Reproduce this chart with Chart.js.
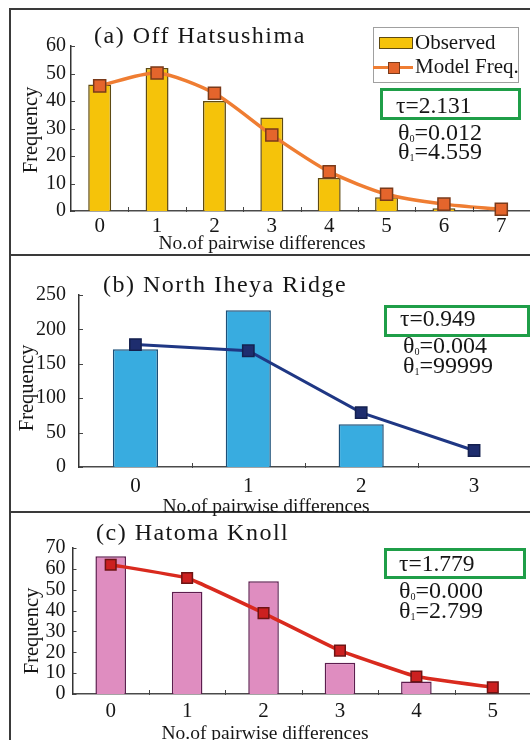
<!DOCTYPE html>
<html>
<head>
<meta charset="utf-8">
<script src="https://cdn.jsdelivr.net/npm/chart.js@4.4.1/dist/chart.umd.min.js"></script>
<style>
  body { margin: 0; background: #fff; }
  #fig { position: relative; width: 530px; height: 740px; overflow: hidden;
         font-family: "Liberation Serif", "Times New Roman", serif; color: #161616; }
  #fig canvas { position: absolute; left: 0; }
  .rule { position: absolute; background: #3a3a3a; }
  .txt { position: absolute; white-space: nowrap; line-height: 1; }
  .ptitle { font-size: 24px; letter-spacing: 1.5px; }
  .ytitle { font-size: 20.5px; transform: translate(-50%, -50%) rotate(-90deg); }
  .xtitle { font-size: 19.5px; transform: translateX(-50%); }
  .tauTxt { font-size: 23.5px; }
  .theta { font-size: 24px; }
  .theta sub { font-size: 0.42em; vertical-align: -0.15em; }
  .box { position: absolute; box-sizing: border-box; }
  .tau { border: 3px solid #1f9e48; }
  .legend { border: 1.5px solid #a0a0a0; }
  .swatch { position: absolute; box-sizing: border-box; background: #f5c30a; border: 1.5px solid #5e4a12; }
  .lline { position: absolute; height: 3px; background: #ef7d32; }
  .lmark { position: absolute; box-sizing: border-box; width: 12px; height: 12px; background: #e5652c; border: 1.5px solid #7a3a1a; }
</style>
</head>
<body>
<div id="fig">
  <canvas id="chartA" width="540" height="246" style="top:9px"></canvas>
  <canvas id="chartB" width="540" height="256" style="top:256px"></canvas>
  <canvas id="chartC" width="540" height="227" style="top:513px"></canvas>

  <div class="rule" style="left:9px;top:8px;width:2px;height:740px"></div>
  <div class="rule" style="left:9px;top:8px;width:530px;height:2px"></div>
  <div class="rule" style="left:9px;top:254px;width:530px;height:2px"></div>
  <div class="rule" style="left:9px;top:511px;width:530px;height:2px"></div>

  <!-- panel a -->
  <div class="txt ptitle" style="left:94px;top:23px">(a) Off Hatsushima</div>
  <div class="txt ytitle" style="left:30px;top:130px">Frequency</div>
  <div class="txt xtitle" style="left:262px;top:233px">No.of pairwise differences</div>
  <div class="box legend" style="left:373px;top:27px;width:146px;height:56px"></div>
  <div class="swatch" style="left:379px;top:37px;width:34px;height:12px"></div>
  <div class="txt" style="left:415px;top:32px;font-size:21px">Observed</div>
  <div class="lline" style="left:373px;top:66px;width:40px"></div>
  <div class="lmark" style="left:388px;top:62px"></div>
  <div class="txt" style="left:415px;top:56px;font-size:21px">Model Freq.</div>
  <div class="box tau" style="left:380px;top:88px;width:141px;height:32px"></div>
  <div class="txt tauTxt" style="left:396px;top:94px">τ=2.131</div>
  <div class="txt theta" style="left:398px;top:120px">θ<sub>0</sub>=0.012</div>
  <div class="txt theta" style="left:398px;top:139px">θ<sub>1</sub>=4.559</div>

  <!-- panel b -->
  <div class="txt ptitle" style="left:103px;top:272px">(b) North Iheya Ridge</div>
  <div class="txt ytitle" style="left:26px;top:388px">Frequency</div>
  <div class="txt xtitle" style="left:266px;top:496px">No.of pairwise differences</div>
  <div class="box tau" style="left:384px;top:305px;width:146px;height:32px"></div>
  <div class="txt tauTxt" style="left:400px;top:307px">τ=0.949</div>
  <div class="txt theta" style="left:403px;top:333px">θ<sub>0</sub>=0.004</div>
  <div class="txt theta" style="left:403px;top:353px">θ<sub>1</sub>=99999</div>

  <!-- panel c -->
  <div class="txt ptitle" style="left:96px;top:520px">(c) Hatoma Knoll</div>
  <div class="txt ytitle" style="left:31px;top:631px">Frequency</div>
  <div class="txt xtitle" style="left:265px;top:723px">No.of pairwise differences</div>
  <div class="box tau" style="left:384px;top:548px;width:142px;height:31px"></div>
  <div class="txt tauTxt" style="left:399px;top:552px">τ=1.779</div>
  <div class="txt theta" style="left:399px;top:578px">θ<sub>0</sub>=0.000</div>
  <div class="txt theta" style="left:399px;top:598px">θ<sub>1</sub>=2.799</div>
</div>

<script>
// (a) Off Hatsushima
const diffsA = ["0", "1", "2", "3", "4", "5", "6", "7"];
const observedA = [46, 52, 40, 34, 12, 5, 1, null];
const modelA = [45.5, 50.2, 42.8, 27.6, 14.3, 6.1, 2.5, 0.6];
const yMaxA = 60, yStepA = 10;

// (b) North Iheya Ridge
const diffsB = ["0", "1", "2", "3"];
const observedB = [171, 228, 62, null];
const modelB = [178, 169, 79, 24];
const yMaxB = 250, yStepB = 50;

// (c) Hatoma Knoll
const diffsC = ["0", "1", "2", "3", "4", "5"];
const observedC = [66, 49, 54, 15, 6, null];
const modelC = [62, 55.6, 38.8, 20.8, 8.4, 3.2];
const yMaxC = 70, yStepC = 10;

Chart.defaults.font.family = "'Liberation Serif', 'Times New Roman', serif";
Chart.defaults.color = "#161616";

// small tick marks drawn inside the plot, like the original
const innerTicks = {
  id: "innerTicks",
  afterDatasetsDraw(chart) {
    const { ctx, chartArea, scales: { x, y } } = chart;
    ctx.save();
    ctx.strokeStyle = "#444";
    ctx.lineWidth = 1;
    y.ticks.forEach((t, i) => {
      const py = Math.round(y.getPixelForTick(i)) + 0.5;
      ctx.beginPath();
      ctx.moveTo(chartArea.left, py);
      ctx.lineTo(chartArea.left + 4, py);
      ctx.stroke();
    });
    for (let i = 1; i <= x.ticks.length; i++) {
      const px = Math.round(x.getPixelForValue(i - 0.5)) + 0.5;
      ctx.beginPath();
      ctx.moveTo(px, chartArea.bottom + 1);
      ctx.lineTo(px, chartArea.bottom - 4);
      ctx.stroke();
    }
    ctx.restore();
  }
};

function drawPanel(id, labels, observed, model, yMax, yStep, look) {
  new Chart(document.getElementById(id), {
    type: "bar",
    data: {
      labels: labels,
      datasets: [
        {
          type: "line",
          label: "Model Freq.",
          data: model,
          order: 0,
          borderColor: look.line,
          borderWidth: look.lineWidth,
          tension: look.tension,
          pointStyle: "rect",
          pointRadius: look.pointRadius,
          pointBackgroundColor: look.mark,
          pointBorderColor: look.markEdge,
          pointBorderWidth: 1.5,
          clip: false
        },
        {
          label: "Observed",
          data: observed,
          order: 1,
          backgroundColor: look.bar,
          borderColor: look.barEdge,
          borderWidth: 1.5,
          categoryPercentage: 1,
          barPercentage: 0.4
        }
      ]
    },
    options: {
      responsive: false,
      animation: false,
      layout: { padding: { top: look.padTop, right: 7.5, left: 0, bottom: 0 } },
      plugins: { legend: { display: false }, tooltip: { enabled: false } },
      scales: {
        x: {
          grid: { display: false, drawTicks: false },
          border: { display: true, color: "#4a4a4a", width: 1.5 },
          ticks: { font: { size: 21 }, padding: look.xPad, color: "#161616", autoSkip: false },
          afterFit: s => { s.height = look.xHeight; }
        },
        y: {
          min: 0,
          max: yMax,
          grid: { display: false, drawTicks: false },
          border: { display: true, color: "#333", width: 1.5 },
          ticks: { stepSize: yStep, font: { size: 20 }, padding: look.yPad, color: "#161616", autoSkip: false },
          afterFit: s => { s.width = look.yWidth; }
        }
      }
    },
    plugins: [innerTicks]
  });
}

drawPanel("chartA", diffsA, observedA, modelA, yMaxA, yStepA, {
  bar: "#f5c30a", barEdge: "#5e4a12",
  line: "#ef7d32", mark: "#e5652c", markEdge: "#7a3a1a",
  lineWidth: 3.5, tension: 0.25, pointRadius: 8.5,
  padTop: 37, xHeight: 44, yWidth: 71, yPad: 5, xPad: 3
});

drawPanel("chartB", diffsB, observedB, modelB, yMaxB, yStepB, {
  bar: "#38ace0", barEdge: "#1b4f78",
  line: "#1f3784", mark: "#1e2d6e", markEdge: "#14204f",
  lineWidth: 3, tension: 0, pointRadius: 8,
  padTop: 39, xHeight: 45, yWidth: 79, yPad: 13, xPad: 7
});

drawPanel("chartC", diffsC, observedC, modelC, yMaxC, yStepC, {
  bar: "#df8dc0", barEdge: "#5c1d4e",
  line: "#d92a1e", mark: "#cc2020", markEdge: "#6e1414",
  lineWidth: 3.5, tension: 0.1, pointRadius: 7.5,
  padTop: 35, xHeight: 46, yWidth: 72.5, yPad: 7, xPad: 5
});
</script>
</body>
</html>
